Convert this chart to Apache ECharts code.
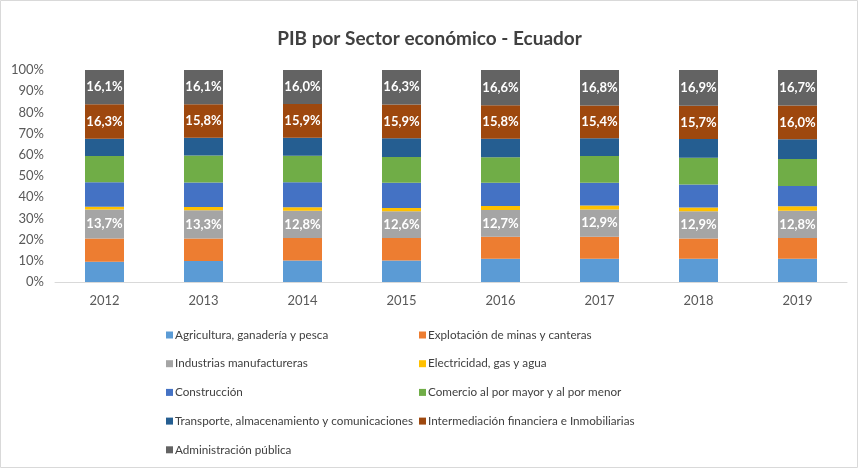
<!DOCTYPE html>
<html>
<head>
<meta charset="utf-8">
<script src="https://cdn.jsdelivr.net/npm/echarts@6/dist/echarts.min.js"></script>
<style>
html,body{margin:0;padding:0;background:#fff;}
#c{width:859px;height:469px;}
</style>
</head>
<body>
<div id="c"></div>
<script>
const years = ['2012','2013','2014','2015','2016','2017','2018','2019'];
const agricultura   = [9.5, 9.9, 10.2, 10.2, 11.0, 11.0, 11.0, 11.0];
const mineria       = [11.0, 10.6, 10.6, 10.6, 10.3, 10.3, 9.5, 9.8];
const manufactura   = [13.7, 13.3, 12.8, 12.6, 12.7, 12.9, 12.9, 12.8];
const electricidad  = [1.3, 1.6, 1.7, 1.5, 1.9, 1.9, 1.8, 2.1];
const construccion  = [11.5, 11.5, 11.7, 11.9, 10.9, 10.7, 10.8, 9.6];
const comercio      = [12.4, 12.8, 12.5, 12.2, 12.1, 12.6, 12.6, 12.7];
const transporte    = [8.2, 8.4, 8.6, 8.8, 8.7, 8.4, 8.8, 9.3];
const financiera    = [16.3, 15.8, 15.9, 15.9, 15.8, 15.4, 15.7, 16.0];
const administracion= [16.1, 16.1, 16.0, 16.3, 16.6, 16.8, 16.9, 16.7];
const yTicks = ['0%','10%','20%','30%','40%','50%','60%','70%','80%','90%','100%'];

const names = [
  'Agricultura, ganadería y pesca',
  'Explotación de minas y canteras',
  'Industrias manufactureras',
  'Electricidad, gas y agua',
  'Construcción',
  'Comercio al por mayor y al por menor',
  'Transporte, almacenamiento y comunicaciones',
  'Intermediación financiera e Inmobiliarias',
  'Administración pública'
];
const datas = [agricultura, mineria, manufactura, electricidad, construccion, comercio, transporte, financiera, administracion];
const colors = ['#5B9BD5','#ED7D31','#A5A5A5','#FFC000','#4472C4','#70AD47','#255E91','#9E480E','#636363'];
const labeled = [false,false,true,false,false,false,false,true,true];

const FONT = 'Lato';
const series = names.map((n,i)=>({
  name:n, type:'bar', stack:'total', barWidth:39,
  data:datas[i],
  itemStyle:{color:colors[i]},
  label:{show:labeled[i], position:'inside', color:'#fff', fontFamily:FONT, fontSize:13, fontWeight:'bold',
    formatter:p=>p.value.toFixed(1).replace('.',',')+'%'},
  emphasis:{disabled:true}
}));

const legendText = {fontFamily:FONT, fontSize:11.7, lineHeight:14, color:'#404040', padding:[0,0,0,-3]};
const chart = echarts.init(document.getElementById('c'));
chart.setOption({
  animation:false,
  color:colors,
  title:{text:'PIB por Sector económico - Ecuador', left:'center', top:24,
    textStyle:{fontFamily:FONT, fontSize:19, fontWeight:'bold', color:'#404040'}},
  graphic:[{type:'rect', shape:{x:0.5,y:0.5,width:857,height:467}, style:{fill:'none', stroke:'#d9d9d9', lineWidth:1}, silent:true}],
  grid:{left:55, right:12, top:70, height:212, containLabel:false},
  xAxis:{type:'category', data:years,
    axisLine:{lineStyle:{color:'#d9d9d9'}}, axisTick:{show:false},
    axisLabel:{fontFamily:FONT, fontSize:13, color:'#595959', margin:12}},
  yAxis:{type:'value', min:0, max:100, interval:10,
    splitLine:{show:false}, axisLine:{show:false}, axisTick:{show:false},
    axisLabel:{fontFamily:FONT, fontSize:13, color:'#595959', margin:11,
      formatter:v=>yTicks[Math.round(v/10)]}},
  legend:[
    {data:[names[0],names[2],names[4],names[6],names[8]], orient:'vertical', left:161, top:323,
     itemWidth:7, itemHeight:7, itemGap:14.7, icon:'rect', textStyle:legendText},
    {data:[names[1],names[3],names[5],names[7]], orient:'vertical', left:414, top:323,
     itemWidth:7, itemHeight:7, itemGap:14.7, icon:'rect', textStyle:legendText}
  ],
  series:series
});
</script>
</body>
</html>
